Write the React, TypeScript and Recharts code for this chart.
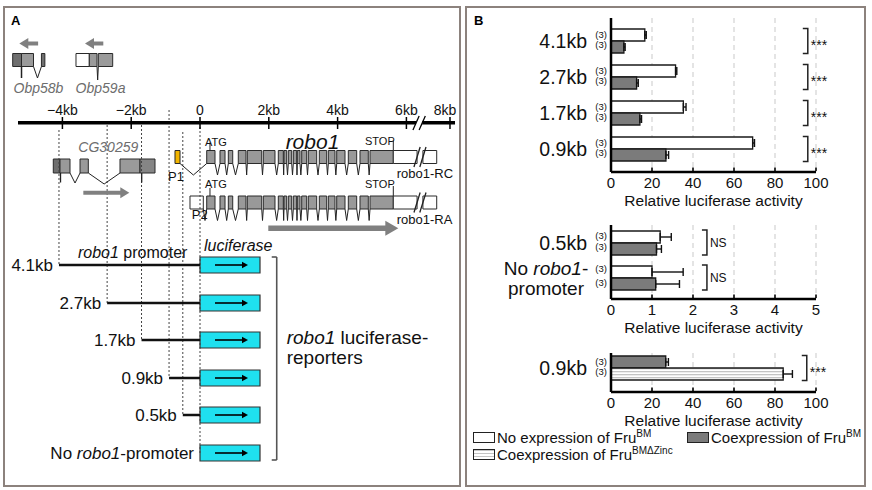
import React from 'react';
import {
  BarChart, Bar, XAxis, YAxis, CartesianGrid, ErrorBar, ReferenceDot,
  ScatterChart, Scatter, ReferenceArea, ReferenceLine,
} from 'recharts';

const FONT = '"Liberation Sans", Arial, Helvetica, sans-serif';

/* ================= Panel B data ================= */
const LONG_CONSTRUCTS = ['4.1kb', '2.7kb', '1.7kb', '0.9kb'];
const LONG_NO_FRU = [16.5, 31.5, 35.3, 69.1];
const LONG_NO_FRU_ERR = [0.7, 0.6, 1.3, 0.9];
const LONG_FRU_BM = [6.3, 12.5, 14.1, 26.8];
const LONG_FRU_BM_ERR = [0.6, 0.8, 0.8, 1.3];
const LONG_N = [3, 3, 3, 3];
const LONG_SIG = ['***', '***', '***', '***'];

const SHORT_CONSTRUCTS = ['0.5kb', 'No robo1-promoter'];
const SHORT_NO_FRU = [1.2, 1.0];
const SHORT_NO_FRU_ERR = [0.27, 0.76];
const SHORT_FRU_BM = [1.11, 1.09];
const SHORT_FRU_BM_ERR = [0.12, 0.58];
const SHORT_N = [3, 3];
const SHORT_SIG = ['NS', 'NS'];

const ZINC_CONSTRUCTS = ['0.9kb'];
const ZINC_FRU_BM = [26.7];
const ZINC_FRU_BM_ERR = [1.3];
const ZINC_FRU_DZINC = [84];
const ZINC_FRU_DZINC_ERR = [4.5];
const ZINC_N = [3];
const ZINC_SIG = ['***'];

const TICKS_100 = [0, 20, 40, 60, 80, 100];
const TICKS_5 = [0, 1, 2, 3, 4, 5];
const SIG_X_LONG = 96;
const SIG_X_SHORT = 2.34;
const SIG_X_ZINC = 95.5;

const AXIS_TITLE = 'Relative luciferase activity';

const LEGEND_ITEMS = [
  { label: 'No expression of Fru', sup: 'BM', swatch: 'white' },
  { label: 'Coexpression of Fru', sup: 'BM', swatch: 'dark' },
  { label: 'Coexpression of Fru', sup: 'BMΔZinc', swatch: 'stripes' },
];

const CATEGORY_DISPLAY: Record<string, { t: string; i?: boolean }[][]> = {
  'No robo1-promoter': [[{ t: 'No ' }, { t: 'robo1', i: true }, { t: '-' }], [{ t: 'promoter' }]],
};

/* ================= Panel A data ================= */
const KB_MIN = -5.698;
const KB_MAX = 7.529;

const GENOME_TICK_KB = [-4, -2, 0, 2, 4, 6, 7.267];
const GENOME_TICK_LABEL = ['−4kb', '−2kb', '0', '2kb', '4kb', '6kb', '8kb'];
const GENOME_LABEL_KB = [-4, -2, 0, 2, 4, 6, 7.12];
const GENOME_AXIS_PIECES = [[-5.291, 6.28], [6.46, 7.413]];
const GENOME_BREAK = [[6.19, 6.37], [6.37, 6.55]];

const OBP58B_EXONS: [number, number, string][] = [[-5.445, -5.189, '#6f6f6f'], [-5.189, -4.84, '#9a9a9a'], [-4.61, -4.51, '#6f6f6f']];
const OBP58B_INTRONS = [[-4.84, -4.61]];
const OBP59A_EXONS: [number, number, string][] = [[-3.605, -3.218, '#ffffff'], [-3.218, -2.994, '#9a9a9a'], [-2.956, -2.538, '#9a9a9a']];
const OBP59A_INTRONS = [[-2.994, -2.956]];
const CG30259_EXONS: [number, number, string][] = [[-4.265, -4.07, '#6f6f6f'], [-4.07, -3.779, '#9a9a9a'], [-3.488, -3.247, '#9a9a9a'], [-2.326, -1.744, '#9a9a9a'], [-1.744, -1.308, '#858585']];
const CG30259_INTRONS = [[-3.779, -3.488], [-3.247, -2.326]];
const CG30259_MARKS = [-4.055, -1.695];

const ROBO1_CODING = [
  [0.195, 0.436], [0.581, 0.727], [0.823, 0.951], [1.113, 1.337], [1.375, 1.794],
  [1.84, 2.18], [2.276, 2.422], [2.442, 2.52], [2.567, 2.666], [2.712, 2.811],
  [2.828, 2.907], [2.956, 3.102], [3.148, 3.392], [3.468, 3.683], [3.73, 3.924],
  [3.974, 4.215], [4.311, 4.555], [4.651, 4.892], [4.942, 5.619],
];
const ROBO1_UTR = [[5.619, 6.31], [6.48, 6.881]];
const ROBO1_UTR_BREAK = [[6.22, 6.4], [6.39, 6.57]];
const ROBO1_P1 = [-0.727, -0.581];
const ROBO1_P2 = [-0.291, 0.096];
const ATG_KB = 0.29;
const STOP_KB = 5.619;

const GENE_ARROWS = [
  { from: -4.706, tip: -5.253, y: 43.5, w: 4, len: 9, half: 5.5 },
  { from: -2.811, tip: -3.343, y: 43.5, w: 4, len: 9, half: 5.5 },
  { from: -3.392, tip: -2.055, y: 192.7, w: 4, len: 9, half: 5.5 },
  { from: 1.985, tip: 5.765, y: 228.3, w: 5.5, len: 13, half: 7.5 },
];

const REPORTERS = [
  { parts: [{ t: '4.1kb' }], start: -4.1, y: 265, guideTop: 130 },
  { parts: [{ t: '2.7kb' }], start: -2.7, y: 303, guideTop: 125 },
  { parts: [{ t: '1.7kb' }], start: -1.7, y: 340, guideTop: 125 },
  { parts: [{ t: '0.9kb' }], start: -0.9, y: 378, guideTop: 110 },
  { parts: [{ t: '0.5kb' }], start: -0.5, y: 415, guideTop: 132 },
  { parts: [{ t: 'No ' }, { t: 'robo1', i: true }, { t: '-promoter' }], start: 0, y: 453, guideTop: 127 },
];
const LUC_END_KB = 1.744;
const LUC_ARROW = [0.436, 1.395];
const REPORTER_BRACKET_KB = [2.085, 2.23];
const REPORTER_BRACKET_Y = [257, 460];

const LV = {
  obpTop: 53.5, obpBot: 66.5, obpDip: 78,
  axis: 122.7, tickTop: 117, tickBot: 129,
  rcTop: 150.5, rcBot: 163.5,
  cgTop: 159, cgBot: 173,
  raTop: 196, raBot: 209,
};

const ANNOTATIONS = [
  { x: -4.695, y: 88, parts: [{ t: 'Obp58b', i: true }], size: 14, color: '#6d6d6d' },
  { x: -2.892, y: 88, parts: [{ t: 'Obp59a', i: true }], size: 14, color: '#6d6d6d' },
  ...GENOME_TICK_LABEL.map((t, k) => ({ x: GENOME_LABEL_KB[k], y: 110, parts: [{ t }], size: 14 })),
  { x: -2.666, y: 147, parts: [{ t: 'CG30259', i: true }], size: 14, color: '#6d6d6d' },
  { x: 3.27, y: 141, parts: [{ t: 'robo1', i: true }], size: 21 },
  { x: 0.145, y: 142, parts: [{ t: 'ATG' }], size: 11, anchor: 'start' },
  { x: 0.145, y: 184, parts: [{ t: 'ATG' }], size: 11, anchor: 'start' },
  { x: 4.797, y: 141, parts: [{ t: 'STOP' }], size: 11, anchor: 'start' },
  { x: 4.797, y: 184, parts: [{ t: 'STOP' }], size: 11, anchor: 'start' },
  { x: -0.93, y: 176, parts: [{ t: 'P1' }], size: 13, anchor: 'start' },
  { x: -0.24, y: 214, parts: [{ t: 'P2' }], size: 13, anchor: 'start' },
  { x: 5.718, y: 173, parts: [{ t: 'robo1-RC' }], size: 13, anchor: 'start' },
  { x: 5.718, y: 219, parts: [{ t: 'robo1-RA' }], size: 13, anchor: 'start' },
  { x: -3.547, y: 252, parts: [{ t: 'robo1', i: true }, { t: ' promoter' }], size: 16, anchor: 'start' },
  { x: 0.116, y: 245, parts: [{ t: 'luciferase', i: true }], size: 16, anchor: 'start' },
  ...REPORTERS.map((r) => ({ x: r.start, y: r.y, parts: r.parts, size: 17, anchor: 'end', dx: -6 })),
  { x: 2.52, y: 337, parts: [{ t: 'robo1', i: true }, { t: ' luciferase-' }], size: 19, anchor: 'start' },
  { x: 2.52, y: 357, parts: [{ t: 'reporters' }], size: 19, anchor: 'start' },
];

/* ================= helpers ================= */
const AnnotText = (props: any) => {
  const { cx, cy, payload } = props;
  const p = payload;
  return (
    <text x={cx + (p.dx ?? 0)} y={cy} textAnchor={p.anchor ?? 'middle'} dominantBaseline="central"
      fontSize={p.size} fontFamily={FONT} fill={p.color ?? '#111'}>
      {p.parts.map((s: any, i: number) => (
        <tspan key={i} fontStyle={s.i ? 'italic' : 'normal'}>{s.t}</tspan>
      ))}
    </text>
  );
};

const ArrowHead = ({ cx, cy, dir, len, half, color }: any) => {
  const b = cx - dir * len;
  return <polygon points={`${cx},${cy} ${b},${cy - half} ${b},${cy + half}`} fill={color} />;
};

const seg = (key: string, x1: number, y1: number, x2: number, y2: number, stroke = '#222', strokeWidth = 1, dash?: string) => (
  <ReferenceLine key={key} segment={[{ x: x1, y: y1 }, { x: x2, y: y2 }]} ifOverflow="visible"
    stroke={stroke} strokeWidth={strokeWidth} strokeDasharray={dash} />
);

const box = (key: string, x1: number, x2: number, y1: number, y2: number, fill: string, stroke = '#2a2a2a', sw = 1) => (
  <ReferenceArea key={key} x1={x1} x2={x2} y1={y1} y2={y2} fill={fill} fillOpacity={1}
    stroke={stroke} strokeWidth={sw} ifOverflow="visible" />
);

const intronV = (key: string, a: number, b: number, bot: number, dip: number) => {
  const m = (a + b) / 2;
  return [seg(key + 'l', a, bot, m, dip), seg(key + 'r', m, dip, b, bot)];
};

function PanelA() {
  const els: React.ReactNode[] = [];
  REPORTERS.forEach((r, i) => els.push(seg('g' + i, r.start, r.guideTop, r.start, r.y, '#444', 1, '2 2')));
  GENOME_AXIS_PIECES.forEach((p, i) => els.push(seg('ax' + i, p[0], LV.axis, p[1], LV.axis, '#000', 3.5)));
  GENOME_BREAK.forEach((p, i) => els.push(seg('axb' + i, p[0], LV.tickBot + 1, p[1], LV.tickTop - 1, '#000', 1.3)));
  GENOME_TICK_KB.forEach((k, i) => els.push(seg('tk' + i, k, LV.tickTop, k, LV.tickBot, '#000', 1.5)));
  OBP58B_EXONS.forEach((e, i) => els.push(box('o8' + i, e[0], e[1], LV.obpTop, LV.obpBot, e[2])));
  OBP58B_INTRONS.forEach((e, i) => els.push(...intronV('o8i' + i, e[0], e[1], LV.obpBot, LV.obpDip)));
  els.push(seg('o8m', OBP58B_EXONS[0][1], LV.obpBot, OBP58B_EXONS[0][1], LV.obpDip, '#222', 1.5));
  OBP59A_EXONS.forEach((e, i) => els.push(box('o9' + i, e[0], e[1], LV.obpTop, LV.obpBot, e[2])));
  OBP59A_INTRONS.forEach((e, i) => els.push(...intronV('o9i' + i, e[0], e[1], LV.obpBot, LV.obpDip + 2)));
  CG30259_EXONS.forEach((e, i) => els.push(box('cg' + i, e[0], e[1], LV.cgTop, LV.cgBot, e[2])));
  CG30259_INTRONS.forEach((e, i) => els.push(...intronV('cgi' + i, e[0], e[1], LV.cgBot, LV.cgBot + 10 + i)));
  CG30259_MARKS.forEach((k, i) => els.push(seg('cgm' + i, k, LV.cgBot, k, LV.cgBot + 9.5, '#222', 1.3)));
  const tracks = [
    { id: 'rc', top: LV.rcTop, bot: LV.rcBot, first: ROBO1_P1, firstFill: '#f2b500' },
    { id: 'ra', top: LV.raTop, bot: LV.raBot, first: ROBO1_P2, firstFill: '#ffffff' },
  ];
  tracks.forEach((t) => {
    els.push(box(t.id + 'f', t.first[0], t.first[1], t.top, t.bot, t.firstFill));
    ROBO1_CODING.forEach((e, i) => els.push(box(t.id + 'e' + i, e[0], e[1], t.top, t.bot, '#999999')));
    ROBO1_UTR.forEach((e, i) => els.push(box(t.id + 'u' + i, e[0], e[1], t.top, t.bot, '#ffffff')));
    ROBO1_UTR_BREAK.forEach((p, i) => els.push(seg(t.id + 'ub' + i, p[0], t.bot + 3.5, p[1], t.top - 3.5, '#222', 1.3)));
    const exons = [t.first, ...ROBO1_CODING];
    for (let i = 0; i < exons.length - 1; i++) {
      els.push(...intronV(t.id + 'in' + i, exons[i][1], exons[i + 1][0], t.bot, t.bot + 11.5));
    }
    els.push(seg(t.id + 'atg', ATG_KB, t.top - 8, ATG_KB, t.top, '#222', 1));
    els.push(seg(t.id + 'stop', STOP_KB, t.top - 10, STOP_KB, t.top, '#222', 1));
  });
  GENE_ARROWS.forEach((a, i) => {
    const dir = Math.sign(a.tip - a.from);
    els.push(seg('ga' + i, a.from, a.y, a.tip - dir * (a.len * 0.55) / 34.4, a.y, '#808080', a.w));
  });
  REPORTERS.forEach((r, i) => {
    if (r.start < 0) els.push(seg('pl' + i, r.start, r.y, 0, r.y, '#111', 2.5));
    els.push(box('lb' + i, 0, LUC_END_KB, r.y - 8, r.y + 8, '#1fe0ef', '#333', 1.2));
    els.push(seg('la' + i, LUC_ARROW[0], r.y, LUC_ARROW[1] - 0.1, r.y, '#000', 1.6));
  });
  els.push(seg('rb0', REPORTER_BRACKET_KB[1], REPORTER_BRACKET_Y[0], REPORTER_BRACKET_KB[1], REPORTER_BRACKET_Y[1], '#555', 1.6));
  els.push(seg('rb1', REPORTER_BRACKET_KB[0], REPORTER_BRACKET_Y[0], REPORTER_BRACKET_KB[1], REPORTER_BRACKET_Y[0], '#555', 1.6));
  els.push(seg('rb2', REPORTER_BRACKET_KB[0], REPORTER_BRACKET_Y[1], REPORTER_BRACKET_KB[1], REPORTER_BRACKET_Y[1], '#555', 1.6));

  const heads: React.ReactNode[] = [];
  GENE_ARROWS.forEach((a, i) => {
    const dir = Math.sign(a.tip - a.from);
    heads.push(
      <ReferenceDot key={'gh' + i} x={a.tip} y={a.y} r={0} ifOverflow="visible"
        shape={(p: any) => <ArrowHead cx={p.cx} cy={p.cy} dir={dir} len={a.len} half={a.half} color="#808080" />} />
    );
  });
  REPORTERS.forEach((r, i) => {
    heads.push(
      <ReferenceDot key={'lh' + i} x={LUC_ARROW[1]} y={r.y} r={0} ifOverflow="visible"
        shape={(p: any) => <ArrowHead cx={p.cx} cy={p.cy} dir={1} len={6} half={3.2} color="#000" />} />
    );
  });

  return (
    <ScatterChart width={455} height={490} margin={{ top: 0, right: 0, bottom: 0, left: 0 }}>
      <XAxis type="number" dataKey="x" domain={[KB_MIN, KB_MAX]} hide allowDataOverflow />
      <YAxis type="number" dataKey="y" domain={[0, 490]} reversed hide allowDataOverflow />
      {els}
      {heads}
      <Scatter data={ANNOTATIONS} shape={AnnotText} isAnimationActive={false} />
    </ScatterChart>
  );
}

/* ================= Panel B charts ================= */
const ValueTick = (props: any) => {
  const { x, y, payload } = props;
  return (
    <g>
      {payload.value !== 0 && <line x1={x} x2={x} y1={y - 1} y2={y - 4.5} stroke="#000" strokeWidth={1.6} />}
      <text x={x} y={y + 15.5} textAnchor="middle" fontSize={15} fontFamily={FONT} fill="#111">{payload.value}</text>
    </g>
  );
};

const CategoryTick = (props: any) => {
  const { x, y, payload, rows } = props;
  const row = rows.find((r: any) => r.name === payload.value);
  const lines = CATEGORY_DISPLAY[payload.value] ?? [[{ t: String(payload.value) }]];
  const two = lines.length > 1;
  return (
    <g fontFamily={FONT} fill="#111">
      {two ? (
        lines.map((ln, li) => (
          <text key={li} x={x - 65} y={y + (li === 0 ? -9.5 : 10)} textAnchor="middle" dominantBaseline="central" fontSize={19}>
            {ln.map((s, si) => <tspan key={si} fontStyle={s.i ? 'italic' : 'normal'}>{s.t}</tspan>)}
          </text>
        ))
      ) : (
        <text x={x - 24} y={y} textAnchor="end" dominantBaseline="central" fontSize={19.5}>{lines[0][0].t}</text>
      )}
      <text x={x - 4} y={y + (two ? -9 : -7)} textAnchor="end" dominantBaseline="central" fontSize={9.5}>({row?.nA})</text>
      <text x={x - 4} y={y + (two ? 5 : 3.5)} textAnchor="end" dominantBaseline="central" fontSize={9.5}>({row?.nB})</text>
    </g>
  );
};

const SigBracket = ({ cx, cy, text }: any) => (
  <g>
    <path d={`M${cx - 5},${cy - 12.5} H${cx} V${cy + 12.5} H${cx - 5}`} fill="none" stroke="#222" strokeWidth={1.5} />
    <text x={cx + 3} y={text === 'NS' ? cy + 4.5 : cy + 8.5} fontSize={text === 'NS' ? 12 : 14} fontFamily={FONT} fill="#111">{text}</text>
  </g>
);

type Series = { key: string; errKey: string; fill: string };

function ActivityChart({ rows, top, height, domain, ticks, series, sigX, padding }: any) {
  return (
    <div style={{ position: 'absolute', left: 466, top }}>
      <BarChart width={400} height={height} layout="vertical" data={rows} barGap={0}
        margin={{ top: 12, right: 50, bottom: 8, left: 0 }}>
        <defs>
          <pattern id="dzStripes" width="4" height="3" patternUnits="userSpaceOnUse">
            <rect width="4" height="3" fill="#ffffff" />
            <rect width="4" height="1.3" fill="#c4c4c4" />
          </pattern>
        </defs>
        <CartesianGrid horizontal={false} stroke="#c9c9c9" strokeDasharray="5 4" />
        <XAxis type="number" domain={domain} ticks={ticks} allowDataOverflow interval={0} height={36}
          tickLine={false} tickSize={0} tickMargin={0} axisLine={{ stroke: '#000', strokeWidth: 2.5 }}
          tick={<ValueTick />}
          label={{ value: AXIS_TITLE, position: 'insideBottom', offset: 2, fontSize: 15.5, fill: '#111', fontFamily: FONT }} />
        <YAxis type="category" dataKey="name" width={145} padding={padding} interval={0}
          tickLine={false} tickSize={0} tickMargin={0} axisLine={{ stroke: '#000', strokeWidth: 2.5 }}
          tick={(p: any) => <CategoryTick {...p} rows={rows} />} />
        {series.map((s: Series) => (
          <Bar key={s.key} dataKey={s.key} barSize={12} fill={s.fill} stroke="#1a1a1a" strokeWidth={1.3} isAnimationActive={false}>
            <ErrorBar dataKey={s.errKey} direction="x" width={4} stroke="#111" strokeWidth={1.4} />
          </Bar>
        ))}
        {rows.map((r: any) => (
          <ReferenceDot key={r.name} x={sigX} y={r.name} r={0} ifOverflow="visible"
            shape={(p: any) => <SigBracket cx={p.cx} cy={p.cy} text={r.sig} />} />
        ))}
      </BarChart>
    </div>
  );
}

const longRows = LONG_CONSTRUCTS.map((name, i) => ({
  name, a: LONG_NO_FRU[i], aErr: [0, LONG_NO_FRU_ERR[i]], b: LONG_FRU_BM[i], bErr: [0, LONG_FRU_BM_ERR[i]],
  nA: LONG_N[i], nB: LONG_N[i], sig: LONG_SIG[i],
}));
const shortRows = SHORT_CONSTRUCTS.map((name, i) => ({
  name, a: SHORT_NO_FRU[i], aErr: [0, SHORT_NO_FRU_ERR[i]], b: SHORT_FRU_BM[i], bErr: [0, SHORT_FRU_BM_ERR[i]],
  nA: SHORT_N[i], nB: SHORT_N[i], sig: SHORT_SIG[i],
}));
const zincRows = ZINC_CONSTRUCTS.map((name, i) => ({
  name, a: ZINC_FRU_BM[i], aErr: [0, ZINC_FRU_BM_ERR[i]], b: ZINC_FRU_DZINC[i], bErr: [0, ZINC_FRU_DZINC_ERR[i]],
  nA: ZINC_N[i], nB: ZINC_N[i], sig: ZINC_SIG[i],
}));

const WHITE = '#ffffff';
const DARK = '#7b7b7b';
const STRIPES = 'url(#dzStripes)';

const swatchStyle = (kind: string): React.CSSProperties => ({
  width: 22, height: 11, boxSizing: 'border-box', border: '1.5px solid #222', marginRight: 2,
  background: kind === 'white' ? '#fff' : kind === 'dark' ? DARK
    : 'repeating-linear-gradient(to bottom, #c4c4c4 0px, #c4c4c4 1.3px, #fff 1.3px, #fff 3px)',
});

function LegendItem({ item }: any) {
  return (
    <div style={{ display: 'flex', alignItems: 'center', height: 17, fontFamily: FONT, fontSize: 15, color: '#111', whiteSpace: 'nowrap' }}>
      <div style={swatchStyle(item.swatch)} />
      <span>{item.label}<span style={{ fontSize: 10, position: 'relative', top: -6 }}>{item.sup}</span></span>
    </div>
  );
}

export default function App() {
  return (
    <div style={{ position: 'absolute', left: 0, top: 0, width: 872, height: 490, background: '#fff', overflow: 'hidden' }}>
      <div style={{ position: 'absolute', left: 3, top: 6, width: 458, height: 481, boxSizing: 'border-box', border: '2px solid #8c827d' }} />
      <div style={{ position: 'absolute', left: 465, top: 6, width: 401, height: 481, boxSizing: 'border-box', border: '2px solid #8c827d' }} />
      <div style={{ position: 'absolute', left: 11, top: 14, fontFamily: FONT, fontWeight: 700, fontSize: 13, lineHeight: '14px' }}>A</div>
      <div style={{ position: 'absolute', left: 474, top: 14, fontFamily: FONT, fontWeight: 700, fontSize: 13, lineHeight: '14px' }}>B</div>

      <div style={{ position: 'absolute', left: 4, top: 0 }}>
        <PanelA />
      </div>

      <ActivityChart rows={longRows} top={6} height={210} domain={[0, 100]} ticks={TICKS_100}
        padding={{ top: 5, bottom: 5 }} sigX={SIG_X_LONG}
        series={[{ key: 'a', errKey: 'aErr', fill: WHITE }, { key: 'b', errKey: 'bErr', fill: DARK }]} />
      <ActivityChart rows={shortRows} top={213} height={130} domain={[0, 5]} ticks={TICKS_5}
        padding={{ top: 0, bottom: 4 }} sigX={SIG_X_SHORT}
        series={[{ key: 'a', errKey: 'aErr', fill: WHITE }, { key: 'b', errKey: 'bErr', fill: DARK }]} />
      <ActivityChart rows={zincRows} top={341} height={95} domain={[0, 100]} ticks={TICKS_100}
        padding={{ top: 0, bottom: 9 }} sigX={SIG_X_ZINC}
        series={[{ key: 'a', errKey: 'aErr', fill: DARK }, { key: 'b', errKey: 'bErr', fill: STRIPES }]} />

      <div style={{ position: 'absolute', left: 473, top: 428.5, display: 'grid', gridTemplateColumns: '214px auto' }}>
        <LegendItem item={LEGEND_ITEMS[0]} />
        <LegendItem item={LEGEND_ITEMS[1]} />
        <LegendItem item={LEGEND_ITEMS[2]} />
      </div>
    </div>
  );
}
